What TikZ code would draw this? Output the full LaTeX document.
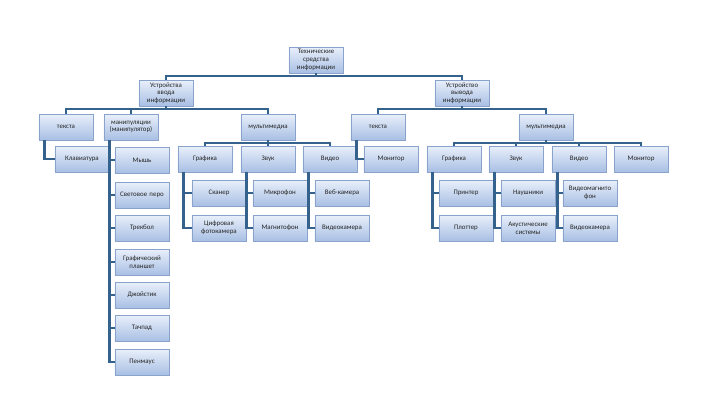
\documentclass[tikz,border=0pt]{standalone}
\usepackage{fontspec}
\setmainfont{Carlito}
\usetikzlibrary{positioning,calc,shadows}

\definecolor{boxtop}{HTML}{E8EFFA}
\definecolor{boxbot}{HTML}{A9C0E4}
\definecolor{boxline}{HTML}{89A3CD}
\definecolor{wirecol}{HTML}{35628C}

\begin{document}
\begin{tikzpicture}[
    x=0.025cm, y=-0.025cm,
    box/.style={draw=boxline, rectangle, minimum width=1.32cm, minimum height=0.64cm,
        inner sep=1pt, text width=1.28cm, align=center, text=black!85,
        top color=boxtop, bottom color=boxbot,
        font=\fontsize{4.9}{5.5}\selectfont,
        drop shadow={opacity=0.3, shadow xshift=0.6pt, shadow yshift=-0.8pt}},
    wire/.style={draw=wirecol, line width=1.9pt},
    hang/.style={wire}
]
\useasboundingbox (0,0) rectangle (720,405);

% Top levels
\node[box] (root) at (316, 60) {Технические\\средства\\информации};
\node[box] (inp) at (166, 93) {Устройства\\ввода\\информации};
\node[box] (outp) at (462, 93) {Устройство\\вывода\\информации};

% Input devices
\node[box] (intext) at (66, 127) {текста};
\node[box] (inmani) at (131, 127) {манипуляции\\(манипулятор)};
\node[box] (inmedia) at (268, 127) {мультимедиа};

\node[box] (keyb) at (82, 159) {Клавиатура};

\node[box] (mouse) at (142, 160) {Мышь};
\node[box] (lpen) at (142, 195) {Световое перо};
\node[box] (track) at (142, 228) {Трекбол};
\node[box] (tablet) at (142, 262) {Графический\\планшет};
\node[box] (joy) at (142, 295) {Джойстик};
\node[box] (touch) at (142, 328) {Тачпад};
\node[box] (penm) at (142, 362) {Пенмаус};

\node[box] (ingraph) at (205, 159) {Графика};
\node[box] (insound) at (268, 159) {Звук};
\node[box] (invideo) at (330, 159) {Видео};
\node[box] (scan) at (219, 193) {Сканер};
\node[box] (photo) at (219, 228) {Цифровая\\фотокамера};
\node[box] (micro) at (280, 193) {Микрофон};
\node[box] (tape) at (280, 228) {Магнитофон};
\node[box] (webcam) at (342, 193) {Веб-камера};
\node[box] (incam) at (342, 228) {Видеокамера};

% Output devices
\node[box] (outtext) at (378, 127) {текста};
\node[box] (outmedia) at (546, 127) {мультимедиа};

\node[box] (mon1) at (391, 159) {Монитор};

\node[box] (outgraph) at (454, 159) {Графика};
\node[box] (outsound) at (516, 159) {Звук};
\node[box] (outvideo) at (579, 159) {Видео};
\node[box] (mon2) at (641, 159) {Монитор};
\node[box] (printer) at (466, 193) {Принтер};
\node[box] (plotter) at (466, 228) {Плоттер};
\node[box] (phones) at (528, 193) {Наушники};
\node[box] (speak) at (528, 228) {Акустические\\системы};
\node[box] (vcr) at (590, 193) {Видеомагнито\\фон};
\node[box] (outcam) at (590, 228) {Видеокамера};

% Tree connectors
\foreach \a/\b in {root/inp, root/outp, inp/intext, inp/inmani, inp/inmedia,
    inmedia/ingraph, inmedia/insound, inmedia/invideo,
    outp/outtext, outp/outmedia,
    outmedia/outgraph, outmedia/outsound, outmedia/outvideo, outmedia/mon2}
    \draw[wire] (\a.south) -- ++(0,3) -| (\b.north);

% Hanging connectors
\foreach \a/\b in {intext/keyb, outtext/mon1,
    inmani/mouse, inmani/lpen, inmani/track, inmani/tablet, inmani/joy, inmani/touch, inmani/penm,
    ingraph/scan, ingraph/photo, insound/micro, insound/tape, invideo/webcam, invideo/incam,
    outgraph/printer, outgraph/plotter, outsound/phones, outsound/speak,
    outvideo/vcr, outvideo/outcam}
    \draw[hang] ([xshift=0.15cm]\a.south west) |- (\b.west);

\end{tikzpicture}
\end{document}
